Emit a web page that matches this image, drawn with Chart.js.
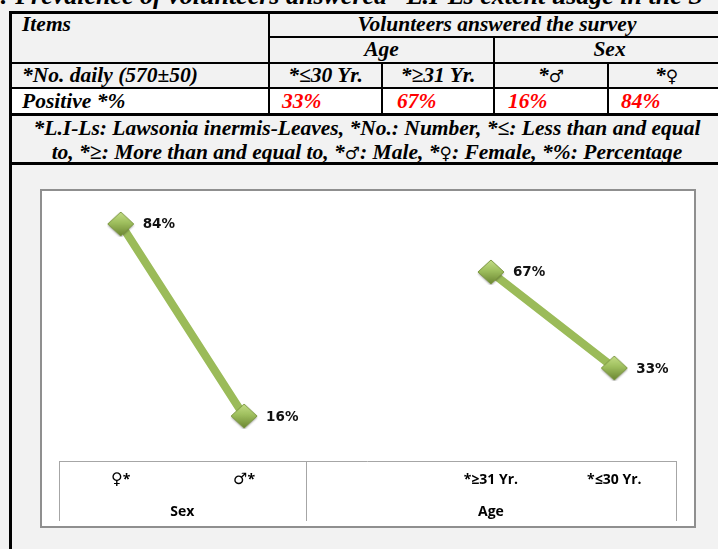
<!DOCTYPE html>
<html><head><meta charset="utf-8">
<script src="https://cdn.jsdelivr.net/npm/chart.js@4.4.1/dist/chart.umd.min.js"></script>
<style>
html,body{margin:0;padding:0;}
body{width:718px;height:549px;overflow:hidden;background:#f2f2f2;position:relative;font-family:"Liberation Serif","Times New Roman",serif;}
.t{position:absolute;font-weight:bold;font-style:italic;font-size:21.5px;white-space:nowrap;color:#000;}
.c{text-align:center;}
.red{color:#ff0000;}
.sym{font-family:"DejaVu Sans",sans-serif;font-weight:normal;font-style:normal;font-size:17px;}
.ln{position:absolute;background:#000;}
#title{position:absolute;left:0;top:-19px;font-size:26px;font-weight:bold;font-style:italic;white-space:nowrap;line-height:30px;}
#row4{position:absolute;left:12px;top:89px;width:713px;height:24px;background:#ffffff;}
#box{position:absolute;left:40px;top:189px;width:656px;height:339px;box-sizing:border-box;border:2px solid #8f8f8f;background:#ffffff;}
#cv{position:absolute;left:0;top:170px;}
</style>
</head><body>
<div id="title">: Prevalence of volunteers answered *L.I-Ls extent usage in the S</div>
<div id="row4"></div>

<div class="t" style="left:22px;top:13px;line-height:23px;">Items</div>
<div class="t c" style="left:269px;width:456px;top:13px;line-height:23px;">Volunteers answered the survey</div>
<div class="t c" style="left:269px;width:225px;top:37px;line-height:25px;">Age</div>
<div class="t c" style="left:494px;width:231px;top:37px;line-height:25px;">Sex</div>

<div class="t" style="left:22px;top:63px;line-height:25px;">*No. daily (570±50)</div>
<div class="t c" style="left:269px;width:113px;top:63px;line-height:25px;">*≤30 Yr.</div>
<div class="t c" style="left:382px;width:112px;top:63px;line-height:25px;">*≥31 Yr.</div>
<div class="t c" style="left:494px;width:114px;top:63px;line-height:25px;">*<span class="sym">♂</span></div>
<div class="t c" style="left:608px;width:117px;top:63px;line-height:25px;">*<span class="sym">♀</span></div>

<div class="t" style="left:22px;top:89px;line-height:24px;">Positive *%</div>
<div class="t red" style="left:282px;top:89px;line-height:24px;">33%</div>
<div class="t red" style="left:397px;top:89px;line-height:24px;">67%</div>
<div class="t red" style="left:508px;top:89px;line-height:24px;">16%</div>
<div class="t red" style="left:621px;top:89px;line-height:24px;">84%</div>

<div class="t c" style="left:9px;width:716px;top:116px;line-height:24px;">*L.I-Ls: Lawsonia inermis-Leaves, *No.: Number, *≤: Less than and equal<br>to, *≥: More than and equal to, *<span class="sym">♂</span>: Male, *<span class="sym">♀</span>: Female, *%: Percentage</div>

<div class="ln" style="left:9px;top:11px;width:3px;height:538px;"></div>
<div class="ln" style="left:9px;top:11px;width:716px;height:3px;"></div>
<div class="ln" style="left:269px;top:36px;width:456px;height:2px;"></div>
<div class="ln" style="left:9px;top:62px;width:716px;height:2px;"></div>
<div class="ln" style="left:9px;top:87px;width:716px;height:2px;"></div>
<div class="ln" style="left:9px;top:113px;width:716px;height:3px;"></div>
<div class="ln" style="left:9px;top:162px;width:716px;height:3px;"></div>
<div class="ln" style="left:268px;top:11px;width:2px;height:103px;"></div>
<div class="ln" style="left:381px;top:62px;width:2px;height:52px;"></div>
<div class="ln" style="left:493px;top:36px;width:2px;height:78px;"></div>
<div class="ln" style="left:607px;top:62px;width:2px;height:52px;"></div>

<div id="box"></div>
<canvas id="cv" width="718" height="379"></canvas>

<script>
const categories = ['♀*', '♂*', '', '*≥31 Yr.', '*≤30 Yr.'];
const positivePct = [84, 16, null, 67, 33];
const groupLabels = ['Sex', 'Age'];
const groupSizes = [2, 3];

// bevelled diamond marker image
function makeDiamond() {
  const w = 26, h = 24;
  const c = document.createElement('canvas');
  c.width = w + 2; c.height = h + 2;
  const g = c.getContext('2d');
  g.shadowColor = 'rgba(0,0,0,0.35)';
  g.shadowBlur = 2;
  g.shadowOffsetY = 1.5;
  const grad = g.createLinearGradient(0, 1, 0, h);
  grad.addColorStop(0, '#c3dd86');
  grad.addColorStop(0.45, '#a0c05f');
  grad.addColorStop(1, '#6f8a35');
  g.beginPath();
  g.moveTo(1, h / 2 + 1);
  g.lineTo(w / 2 + 1, 1);
  g.lineTo(w + 1, h / 2 + 1);
  g.lineTo(w / 2 + 1, h + 1);
  g.closePath();
  g.fillStyle = grad;
  g.fill();
  g.shadowColor = 'transparent';
  g.strokeStyle = '#7b9640';
  g.lineWidth = 1;
  g.stroke();
  return c;
}
const diamondImg = makeDiamond();

function drawMixed(ctx, text, cx, cy) {
  const boldF = 'bold 14px "Open Sans"';
  const symF = '16px "DejaVu Sans"';
  const parts = Array.from(text).map(ch => ({ ch, f: (ch === '♀' || ch === '♂') ? symF : boldF }));
  let total = 0;
  parts.forEach(p => { ctx.font = p.f; p.w = ctx.measureText(p.ch).width; total += p.w; });
  let x = cx - total / 2;
  ctx.textAlign = 'left';
  parts.forEach(p => { ctx.font = p.f; ctx.fillText(p.ch, x, cy); x += p.w; });
}

const axisBox = {
  id: 'axisBox',
  afterDraw(chart) {
    const ctx = chart.ctx, a = chart.chartArea, x = chart.scales.x;
    const top = Math.round(a.bottom), bottom = top + 60;
    const half = (x.getPixelForValue(1) - x.getPixelForValue(0)) / 2;
    ctx.save();
    ctx.strokeStyle = '#a6a6a6';
    ctx.lineWidth = 1;
    ctx.beginPath();
    ctx.moveTo(a.left, top + 0.5);
    ctx.lineTo(a.right, top + 0.5);
    const bounds = [a.left];
    let idx = 0;
    groupSizes.forEach(s => { idx += s; bounds.push(x.getPixelForValue(idx - 1) + half); });
    bounds.forEach(b => {
      const px = Math.round(b) + 0.5;
      ctx.moveTo(px, top);
      ctx.lineTo(px, bottom);
    });
    ctx.stroke();
    ctx.fillStyle = '#000';
    ctx.textBaseline = 'middle';
    categories.forEach((c, i) => drawMixed(ctx, c, x.getPixelForValue(i), top + 19));
    ctx.font = 'bold 14px "Open Sans"';
    ctx.textAlign = 'center';
    let start = 0;
    groupLabels.forEach((g, j) => {
      const s = start, e = start + groupSizes[j] - 1;
      const cx = (x.getPixelForValue(s) + x.getPixelForValue(e)) / 2;
      ctx.fillText(g, cx, top + 51);
      start += groupSizes[j];
    });
    ctx.restore();
  }
};

const dataLabels = {
  id: 'dataLabels',
  afterDatasetsDraw(chart) {
    const ctx = chart.ctx;
    const meta = chart.getDatasetMeta(0);
    ctx.save();
    ctx.fillStyle = '#111';
    ctx.font = 'bold 13.5px "DejaVu Sans"';
    ctx.textAlign = 'left';
    ctx.textBaseline = 'middle';
    meta.data.forEach((pt, i) => {
      const v = positivePct[i];
      if (v === null || v === undefined) return;
      ctx.fillText(v + '%', pt.x + 22, pt.y + 1);
    });
    ctx.restore();
  }
};

new Chart(document.getElementById('cv'), {
  type: 'line',
  data: {
    labels: categories,
    datasets: [{
      data: positivePct,
      borderColor: '#9bbb59',
      borderWidth: 8,
      spanGaps: false,
      pointStyle: diamondImg,
      pointRadius: 12,
      pointHoverRadius: 12,
      tension: 0,
      clip: false
    }]
  },
  options: {
    responsive: false,
    animation: false,
    devicePixelRatio: 1,
    layout: { autoPadding: false, padding: { left: 59, right: 42, top: 8.8, bottom: 87.8 } },
    plugins: { legend: { display: false }, tooltip: { enabled: false } },
    scales: {
      x: { display: false, offset: true },
      y: { display: false, min: 0, max: 100 }
    }
  },
  plugins: [axisBox, dataLabels]
});
</script>
</body></html>
